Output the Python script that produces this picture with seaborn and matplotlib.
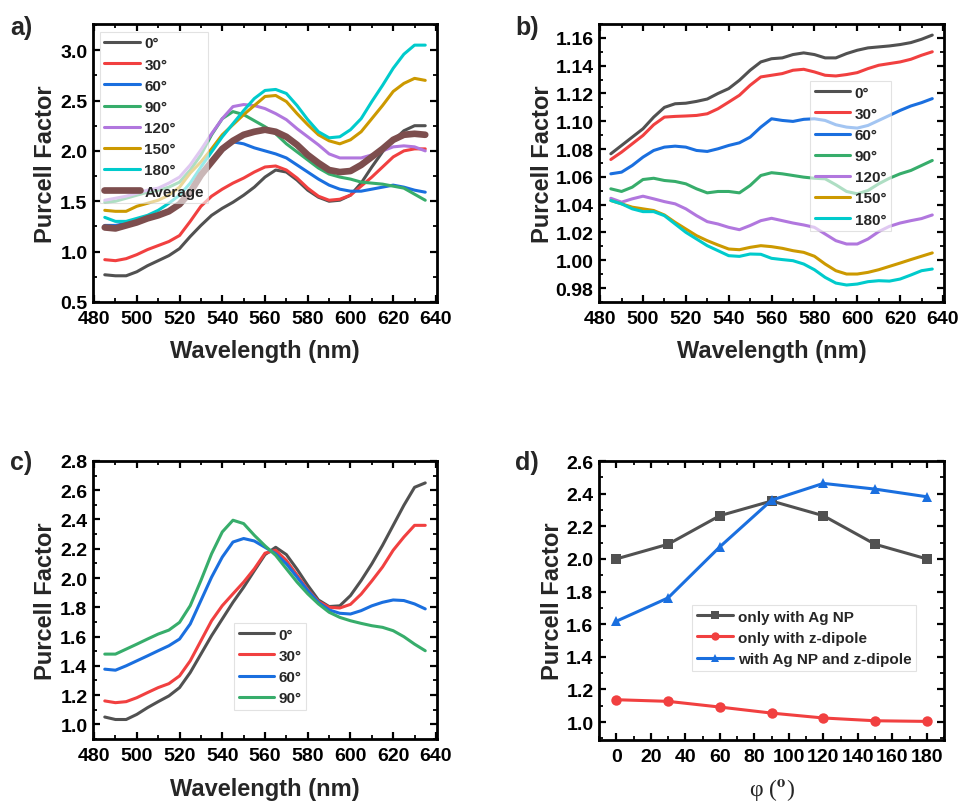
import matplotlib
matplotlib.use('Agg')
import matplotlib.pyplot as plt
import seaborn as sns
import pandas as pd
from matplotlib.ticker import MultipleLocator

# ---------------- data ----------------
WL = [485, 490, 495, 500, 505, 510, 515, 520, 525, 530, 535, 540, 545, 550, 555, 560,
      565, 570, 575, 580, 585, 590, 595, 600, 605, 610, 615, 620, 625, 630, 635]

ANGLES_A = ['0°', '30°', '60°', '90°', '120°', '150°', '180°']
a_0 = [0.77, 0.76, 0.76, 0.80, 0.86, 0.91, 0.96, 1.03, 1.15, 1.26, 1.36, 1.43, 1.49, 1.56, 1.64, 1.74,
       1.81, 1.79, 1.71, 1.61, 1.54, 1.50, 1.51, 1.56, 1.68, 1.84, 1.99, 2.10, 2.20, 2.25, 2.25]
a_30 = [0.92, 0.91, 0.93, 0.97, 1.02, 1.06, 1.10, 1.16, 1.30, 1.45, 1.55, 1.62, 1.68, 1.73, 1.79, 1.84,
        1.85, 1.81, 1.73, 1.63, 1.55, 1.51, 1.52, 1.56, 1.65, 1.74, 1.84, 1.94, 2.00, 2.02, 2.02]
a_60 = [1.26, 1.26, 1.28, 1.31, 1.34, 1.37, 1.41, 1.48, 1.60, 1.74, 1.88, 2.00, 2.09, 2.07, 2.03, 2.00,
        1.97, 1.93, 1.86, 1.79, 1.72, 1.66, 1.62, 1.60, 1.60, 1.62, 1.64, 1.66, 1.64, 1.61, 1.59]
a_90 = [1.49, 1.50, 1.53, 1.56, 1.59, 1.61, 1.64, 1.69, 1.81, 1.96, 2.16, 2.32, 2.39, 2.36, 2.30, 2.24,
        2.17, 2.07, 1.99, 1.91, 1.83, 1.77, 1.74, 1.72, 1.69, 1.68, 1.67, 1.65, 1.63, 1.57, 1.51]
a_120 = [1.51, 1.53, 1.55, 1.58, 1.61, 1.63, 1.68, 1.74, 1.86, 2.01, 2.17, 2.32, 2.44, 2.46, 2.45, 2.42,
         2.37, 2.31, 2.22, 2.14, 2.06, 1.97, 1.93, 1.93, 1.93, 1.96, 2.00, 2.04, 2.05, 2.04, 2.00]
a_150 = [1.41, 1.40, 1.40, 1.45, 1.48, 1.51, 1.56, 1.64, 1.78, 1.89, 2.02, 2.16, 2.26, 2.36, 2.45, 2.54,
         2.55, 2.49, 2.37, 2.26, 2.16, 2.10, 2.07, 2.11, 2.19, 2.32, 2.45, 2.59, 2.67, 2.72, 2.70]
a_180 = [1.34, 1.30, 1.30, 1.33, 1.36, 1.41, 1.48, 1.56, 1.68, 1.84, 1.99, 2.14, 2.27, 2.40, 2.52, 2.60,
         2.61, 2.57, 2.45, 2.31, 2.19, 2.13, 2.14, 2.21, 2.32, 2.49, 2.65, 2.82, 2.96, 3.05, 3.05]
a_avg = [1.24, 1.23, 1.26, 1.29, 1.33, 1.36, 1.40, 1.47, 1.59, 1.76, 1.89, 2.02, 2.10, 2.16, 2.19, 2.21,
         2.19, 2.14, 2.06, 1.96, 1.88, 1.81, 1.79, 1.80, 1.86, 1.94, 2.02, 2.11, 2.16, 2.17, 2.16]

b_0 = [1.0766, 1.0826, 1.0886, 1.0946, 1.103, 1.110, 1.1126, 1.113, 1.1143, 1.116, 1.120, 1.1235, 1.1295, 1.1367, 1.1427, 1.145,
       1.1456, 1.148, 1.1492, 1.148, 1.1456, 1.1456, 1.1487, 1.1511, 1.1528, 1.1535, 1.1542, 1.1552, 1.1566, 1.159, 1.162]
b_30 = [1.0725, 1.0778, 1.0838, 1.0898, 1.0975, 1.103, 1.1035, 1.1038, 1.1042, 1.1054, 1.109, 1.1138, 1.1187, 1.1259, 1.1319, 1.1331,
        1.1343, 1.1367, 1.1374, 1.1355, 1.1331, 1.1326, 1.1336, 1.135, 1.1379, 1.1403, 1.1415, 1.1427, 1.1446, 1.1475, 1.150]
b_60 = [1.0622, 1.0634, 1.0682, 1.0742, 1.079, 1.0814, 1.0821, 1.0814, 1.079, 1.0783, 1.0802, 1.0826, 1.0845, 1.0886, 1.0958, 1.1018,
        1.1006, 1.0999, 1.1014, 1.1018, 1.1006, 1.0975, 1.0958, 1.0951, 1.097, 1.1006, 1.1042, 1.1078, 1.111, 1.1134, 1.1163]
b_90 = [1.0514, 1.0495, 1.0526, 1.0581, 1.059, 1.0574, 1.0567, 1.055, 1.0514, 1.0485, 1.0495, 1.0495, 1.0485, 1.0538, 1.061, 1.063,
        1.0622, 1.061, 1.0598, 1.059, 1.0586, 1.0543, 1.0495, 1.0478, 1.0502, 1.055, 1.059, 1.0622, 1.0646, 1.0682, 1.0718]
b_120 = [1.0446, 1.0418, 1.0442, 1.0461, 1.0442, 1.0422, 1.0406, 1.037, 1.0321, 1.0278, 1.0261, 1.0237, 1.022, 1.025, 1.0285, 1.0302,
         1.0285, 1.0268, 1.0254, 1.0237, 1.0189, 1.0141, 1.0117, 1.0117, 1.0153, 1.0206, 1.0244, 1.0268, 1.0285, 1.030, 1.0326]
b_150 = [1.043, 1.0406, 1.0382, 1.037, 1.0358, 1.0326, 1.0273, 1.0225, 1.0177, 1.0141, 1.011, 1.0081, 1.0076, 1.0093, 1.0105, 1.0098,
         1.0086, 1.0069, 1.0057, 1.0029, 0.9973, 0.9925, 0.9901, 0.9901, 0.9913, 0.9932, 0.9956, 0.998, 1.0005, 1.0029, 1.0053]
b_180 = [1.043, 1.0406, 1.037, 1.035, 1.035, 1.0321, 1.0261, 1.0201, 1.0153, 1.0105, 1.0069, 1.0033, 1.0028, 1.0045, 1.0043, 1.0014,
         1.0005, 0.9997, 0.9973, 0.9932, 0.9877, 0.9836, 0.9822, 0.9829, 0.9846, 0.9853, 0.985, 0.9865, 0.9894, 0.9925, 0.9937]

ANGLES_C = ['0°', '30°', '60°', '90°']
c_0 = [1.05, 1.033, 1.033, 1.068, 1.114, 1.155, 1.194, 1.251, 1.354, 1.48, 1.606, 1.72, 1.834, 1.937, 2.05, 2.16,
       2.21, 2.16, 2.06, 1.95, 1.85, 1.805, 1.81, 1.88, 1.983, 2.097, 2.223, 2.36, 2.497, 2.62, 2.65]
c_30 = [1.16, 1.148, 1.155, 1.182, 1.217, 1.251, 1.278, 1.331, 1.434, 1.571, 1.708, 1.811, 1.892, 1.972, 2.063, 2.17,
        2.19, 2.12, 2.02, 1.92, 1.84, 1.80, 1.795, 1.82, 1.89, 1.98, 2.075, 2.19, 2.28, 2.36, 2.36]
c_60 = [1.377, 1.37, 1.40, 1.434, 1.468, 1.503, 1.537, 1.583, 1.686, 1.846, 2.006, 2.143, 2.246, 2.27, 2.253, 2.21,
        2.166, 2.097, 2.006, 1.914, 1.834, 1.782, 1.759, 1.754, 1.777, 1.81, 1.834, 1.85, 1.846, 1.823, 1.789]
c_90 = [1.48, 1.48, 1.514, 1.548, 1.583, 1.617, 1.644, 1.697, 1.811, 1.983, 2.166, 2.315, 2.395, 2.372, 2.292, 2.22,
        2.155, 2.063, 1.972, 1.892, 1.823, 1.766, 1.731, 1.708, 1.69, 1.674, 1.663, 1.64, 1.599, 1.548, 1.503]

PHI = [0, 30, 60, 90, 120, 150, 180]
D_LABELS = ['only with Ag NP', 'only with z-dipole', 'with Ag NP and z-dipole']
d_ag = [2.00, 2.09, 2.265, 2.355, 2.265, 2.09, 2.00]
d_z = [1.137, 1.127, 1.092, 1.055, 1.025, 1.008, 1.004]
d_both = [1.618, 1.761, 2.074, 2.36, 2.463, 2.428, 2.381]

COLORS = ['#515151', '#F14040', '#1A6FDF', '#37AD6B', '#B177DE', '#CC9900', '#00CBCC']
AVG_COLOR = '#7D4E4E'

# ---------------- style ----------------
sns.set_theme(style='ticks')
plt.rcParams['font.family'] = ['Liberation Sans', 'DejaVu Sans']
plt.rcParams['font.weight'] = 'bold'
plt.rcParams['axes.labelweight'] = 'bold'
plt.rcParams['mathtext.fontset'] = 'stix'

fig = plt.figure(figsize=(9.6, 8.03), dpi=100)
ax_a = fig.add_axes([0.0969, 0.6227, 0.3583, 0.3462])
ax_b = fig.add_axes([0.6240, 0.6227, 0.3594, 0.3462])
ax_c = fig.add_axes([0.0969, 0.0785, 0.3583, 0.3462])
ax_d = fig.add_axes([0.6240, 0.0772, 0.3594, 0.3474])


def long_df(names, series):
    rows = []
    for n, s in zip(names, series):
        for w, v in zip(WL, s):
            rows.append({'wl': w, 'pf': v, 'angle': n})
    return pd.DataFrame(rows)


def style_ax(ax, xlim, ylim, xmaj, xmin, ymaj, ymin, xlabel, ylabel, ylab_x, xlab_y):
    ax.set_xlim(*xlim)
    ax.set_ylim(*ylim)
    ax.xaxis.set_major_locator(MultipleLocator(xmaj))
    ax.xaxis.set_minor_locator(MultipleLocator(xmin))
    ax.yaxis.set_major_locator(MultipleLocator(ymaj))
    ax.yaxis.set_minor_locator(MultipleLocator(ymin))
    ax.tick_params(which='both', direction='in', top=True, right=True, colors='black')
    ax.tick_params(which='major', length=5, width=1.6, labelsize=14)
    ax.tick_params(axis='x', which='major', pad=6)
    ax.tick_params(axis='y', which='major', pad=4)
    ax.tick_params(which='minor', length=3, width=1.3)
    for sp in ax.spines.values():
        sp.set_linewidth(2.0)
        sp.set_color('black')
    ax.set_xlabel(xlabel, fontsize=17, fontweight='bold')
    ax.set_ylabel(ylabel, fontsize=17, fontweight='bold')
    ax.yaxis.set_label_coords(ylab_x, 0.5)
    ax.xaxis.set_label_coords(0.5, xlab_y)
    for t in ax.get_xticklabels() + ax.get_yticklabels():
        t.set_fontweight('bold')


def add_legend(ax, labels, anchor, handlelength=2.3, markerscale=1.0):
    leg = ax.legend(handles=ax.lines[:len(labels)], labels=labels, loc='upper left',
                    bbox_to_anchor=anchor, borderaxespad=0, fontsize=11,
                    frameon=True, fancybox=False, framealpha=0.6, edgecolor='#d0d0d0',
                    handlelength=handlelength, handletextpad=0.3, labelspacing=0.47,
                    borderpad=0.3, markerscale=markerscale)
    leg.get_frame().set_linewidth(0.8)
    for t in leg.get_texts():
        t.set_fontweight('bold')
    return leg


# ---------------- panel a ----------------
df_a = long_df(ANGLES_A, [a_0, a_30, a_60, a_90, a_120, a_150, a_180])
sns.lineplot(data=df_a, x='wl', y='pf', hue='angle', hue_order=ANGLES_A,
             palette=dict(zip(ANGLES_A, COLORS)), estimator=None, errorbar=None,
             sort=False, linewidth=2.2, legend=False, ax=ax_a)
df_avg = pd.DataFrame({'wl': WL, 'pf': a_avg})
sns.lineplot(data=df_avg, x='wl', y='pf', color=AVG_COLOR, linewidth=4.8,
             estimator=None, errorbar=None, sort=False, ax=ax_a)
style_ax(ax_a, (479.5, 640.5), (0.5, 3.26), 20, 10, 0.5, 0.25,
         'Wavelength (nm)', 'Purcell Factor', -0.105, -0.133)
add_legend(ax_a, ANGLES_A + ['Average'], (0.02, 0.972))

# ---------------- panel b ----------------
df_b = long_df(ANGLES_A, [b_0, b_30, b_60, b_90, b_120, b_150, b_180])
sns.lineplot(data=df_b, x='wl', y='pf', hue='angle', hue_order=ANGLES_A,
             palette=dict(zip(ANGLES_A, COLORS)), estimator=None, errorbar=None,
             sort=False, linewidth=2.2, legend=False, ax=ax_b)
style_ax(ax_b, (479.5, 640.5), (0.970, 1.170), 20, 10, 0.02, 0.01,
         'Wavelength (nm)', 'Purcell Factor', -0.130, -0.133)
add_legend(ax_b, ANGLES_A, (0.612, 0.795))

# ---------------- panel c ----------------
df_c = long_df(ANGLES_C, [c_0, c_30, c_60, c_90])
sns.lineplot(data=df_c, x='wl', y='pf', hue='angle', hue_order=ANGLES_C,
             palette=dict(zip(ANGLES_C, COLORS[:4])), estimator=None, errorbar=None,
             sort=False, linewidth=2.2, legend=False, ax=ax_c)
style_ax(ax_c, (479.5, 640.5), (0.9, 2.8), 20, 10, 0.2, 0.1,
         'Wavelength (nm)', 'Purcell Factor', -0.105, -0.137)
add_legend(ax_c, ANGLES_C, (0.41, 0.417))

# ---------------- panel d ----------------
df_d = pd.DataFrame({
    'phi': PHI * 3,
    'pf': d_ag + d_z + d_both,
    'kind': [D_LABELS[0]] * 7 + [D_LABELS[1]] * 7 + [D_LABELS[2]] * 7,
})
sns.lineplot(data=df_d, x='phi', y='pf', hue='kind', hue_order=D_LABELS, style='kind',
             style_order=D_LABELS, markers=['s', 'o', '^'], dashes=False,
             palette=dict(zip(D_LABELS, [COLORS[0], COLORS[1], COLORS[2]])),
             estimator=None, errorbar=None, sort=False, linewidth=2.2,
             markersize=7.5, markeredgewidth=0, legend=False, ax=ax_d)
style_ax(ax_d, (-10, 190), (0.89, 2.6), 20, 10, 0.2, 0.1,
         '', 'Purcell Factor', -0.101, -0.128)
ax_d.set_xlabel(r'φ ($^{\mathrm{o}}$)', fontsize=17, fontweight='normal',
                family=['Liberation Serif', 'DejaVu Serif'])
ax_d.xaxis.set_label_coords(0.5, -0.128)
add_legend(ax_d, D_LABELS, (0.27, 0.484), handlelength=2.4, markerscale=0.8)

# ---------------- panel labels ----------------
for txt, (x, y) in zip(['a)', 'b)', 'c)', 'd)'],
                       [(10, 28), (515, 28), (10, 463), (515, 463)]):
    fig.text(x / 960, 1 - y / 803, txt, fontsize=18, fontweight='bold',
             ha='left', va='center')

fig.savefig('out.png', dpi=100)
